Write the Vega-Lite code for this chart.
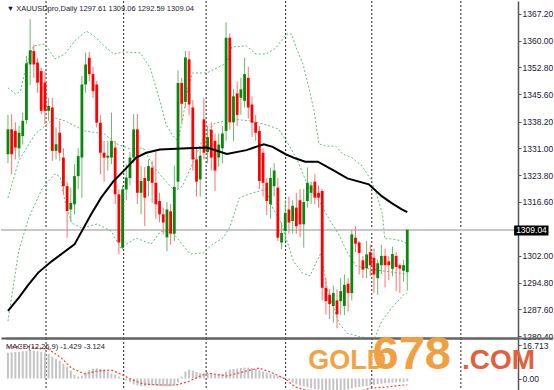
{
"$schema":"https://vega.github.io/schema/vega-lite/v6.json",
"padding":0,"spacing":0,"bounds":"flush","background":"white",
"config":{"view":{"stroke":null},"font":"Liberation Sans","axis":{"grid":false,"title":null,"labelOverlap":false,"labelBound":false,"labelFlush":false}},
"datasets":{
"candles":[
{"i":0,"o":1329.4,"h":1340.0,"l":1327.0,"c":1336.1,"m":13.0},
{"i":1,"o":1336.1,"h":1340.2,"l":1324.0,"c":1329.4,"m":13.2},
{"i":2,"o":1335.7,"h":1338.0,"l":1328.0,"c":1331.2,"m":13.4},
{"i":3,"o":1331.0,"h":1337.0,"l":1328.5,"c":1335.2,"m":13.5},
{"i":4,"o":1334.3,"h":1340.6,"l":1332.0,"c":1338.4,"m":13.8},
{"i":5,"o":1338.6,"h":1355.9,"l":1337.5,"c":1353.9,"m":14.0},
{"i":6,"o":1353.6,"h":1365.8,"l":1348.0,"c":1357.4,"m":14.2},
{"i":7,"o":1357.2,"h":1359.0,"l":1350.0,"c":1353.6,"m":14.0},
{"i":8,"o":1354.1,"h":1355.4,"l":1346.0,"c":1348.7,"m":13.8},
{"i":9,"o":1351.8,"h":1352.7,"l":1340.2,"c":1341.1,"m":13.5},
{"i":10,"o":1348.7,"h":1351.8,"l":1337.5,"c":1341.1,"m":13.2},
{"i":11,"o":1341.1,"h":1344.6,"l":1338.4,"c":1342.4,"m":12.5},
{"i":12,"o":1342.0,"h":1344.6,"l":1327.6,"c":1330.3,"m":11.0},
{"i":13,"o":1330.3,"h":1336.6,"l":1328.0,"c":1332.1,"m":10.0},
{"i":14,"o":1335.2,"h":1338.4,"l":1327.6,"c":1329.8,"m":9.0},
{"i":15,"o":1328.5,"h":1331.0,"l":1318.6,"c":1320.8,"m":7.5},
{"i":16,"o":1320.8,"h":1322.0,"l":1306.9,"c":1314.1,"m":6.0},
{"i":17,"o":1314.5,"h":1320.4,"l":1311.4,"c":1316.3,"m":4.0},
{"i":18,"o":1315.9,"h":1326.7,"l":1313.2,"c":1323.5,"m":2.0},
{"i":19,"o":1323.5,"h":1331.0,"l":1320.0,"c":1328.9,"m":1.0},
{"i":20,"o":1328.5,"h":1350.5,"l":1317.7,"c":1348.2,"m":1.5},
{"i":21,"o":1348.2,"h":1356.8,"l":1346.0,"c":1353.6,"m":3.0},
{"i":22,"o":1355.4,"h":1357.0,"l":1349.0,"c":1351.0,"m":4.5},
{"i":23,"o":1351.0,"h":1353.0,"l":1344.6,"c":1346.4,"m":5.0},
{"i":24,"o":1348.2,"h":1349.1,"l":1336.6,"c":1337.9,"m":5.2},
{"i":25,"o":1337.9,"h":1340.0,"l":1324.0,"c":1329.8,"m":5.0},
{"i":26,"o":1329.8,"h":1333.0,"l":1322.0,"c":1328.5,"m":4.5},
{"i":27,"o":1328.5,"h":1333.0,"l":1325.0,"c":1329.0,"m":3.5},
{"i":28,"o":1328.5,"h":1340.6,"l":1326.7,"c":1333.0,"m":2.5},
{"i":29,"o":1331.2,"h":1333.0,"l":1316.0,"c":1318.6,"m":2.0},
{"i":30,"o":1318.6,"h":1320.0,"l":1302.4,"c":1305.6,"m":1.0},
{"i":31,"o":1304.2,"h":1321.0,"l":1303.8,"c":1319.9,"m":0.3},
{"i":32,"o":1319.9,"h":1326.7,"l":1317.0,"c":1323.1,"m":-1.0},
{"i":33,"o":1323.0,"h":1330.0,"l":1321.0,"c":1328.5,"m":-2.0},
{"i":34,"o":1328.5,"h":1340.2,"l":1327.0,"c":1336.1,"m":-3.0},
{"i":35,"o":1336.1,"h":1340.2,"l":1316.0,"c":1319.0,"m":-3.5},
{"i":36,"o":1319.0,"h":1326.2,"l":1313.2,"c":1322.2,"m":-3.8},
{"i":37,"o":1323.0,"h":1326.0,"l":1310.0,"c":1317.7,"m":-3.8},
{"i":38,"o":1322.2,"h":1328.0,"l":1318.0,"c":1326.2,"m":-3.5},
{"i":39,"o":1325.8,"h":1327.6,"l":1316.3,"c":1321.7,"m":-3.5},
{"i":40,"o":1321.7,"h":1330.0,"l":1312.0,"c":1315.9,"m":-3.6},
{"i":41,"o":1316.8,"h":1319.0,"l":1311.0,"c":1313.2,"m":-3.8},
{"i":42,"o":1313.2,"h":1315.0,"l":1307.8,"c":1311.0,"m":-4.0},
{"i":43,"o":1307.0,"h":1316.5,"l":1303.3,"c":1314.5,"m":-4.0},
{"i":44,"o":1314.0,"h":1316.0,"l":1305.0,"c":1308.0,"m":-4.0},
{"i":45,"o":1308.0,"h":1326.4,"l":1306.0,"c":1320.6,"m":-3.5},
{"i":46,"o":1322.0,"h":1352.0,"l":1320.0,"c":1348.6,"m":-2.0},
{"i":47,"o":1348.6,"h":1350.0,"l":1338.0,"c":1343.0,"m":1.0},
{"i":48,"o":1343.5,"h":1357.2,"l":1342.0,"c":1355.5,"m":3.5},
{"i":49,"o":1355.0,"h":1357.2,"l":1340.0,"c":1342.8,"m":4.5},
{"i":50,"o":1342.0,"h":1344.0,"l":1325.0,"c":1328.0,"m":4.0},
{"i":51,"o":1328.0,"h":1331.0,"l":1318.0,"c":1322.0,"m":3.3},
{"i":52,"o":1322.6,"h":1331.0,"l":1318.0,"c":1329.0,"m":2.8},
{"i":53,"o":1338.8,"h":1344.6,"l":1328.0,"c":1329.8,"m":2.5},
{"i":54,"o":1330.0,"h":1337.0,"l":1327.0,"c":1334.0,"m":2.5},
{"i":55,"o":1336.0,"h":1338.0,"l":1325.0,"c":1328.5,"m":2.3},
{"i":56,"o":1333.0,"h":1335.0,"l":1319.5,"c":1325.0,"m":2.0},
{"i":57,"o":1328.5,"h":1335.0,"l":1326.0,"c":1332.0,"m":2.0},
{"i":58,"o":1331.0,"h":1337.0,"l":1327.0,"c":1335.0,"m":2.3},
{"i":59,"o":1335.7,"h":1365.0,"l":1333.0,"c":1360.8,"m":3.5},
{"i":60,"o":1360.8,"h":1362.0,"l":1336.0,"c":1338.0,"m":4.5},
{"i":61,"o":1338.0,"h":1347.0,"l":1333.0,"c":1345.0,"m":4.8},
{"i":62,"o":1345.8,"h":1349.0,"l":1337.0,"c":1340.0,"m":5.0},
{"i":63,"o":1344.6,"h":1350.0,"l":1340.0,"c":1346.9,"m":5.3},
{"i":64,"o":1343.8,"h":1355.4,"l":1342.0,"c":1351.0,"m":5.5},
{"i":65,"o":1350.0,"h":1353.0,"l":1339.0,"c":1342.0,"m":5.5},
{"i":66,"o":1342.8,"h":1345.0,"l":1334.0,"c":1337.9,"m":5.2},
{"i":67,"o":1338.0,"h":1340.0,"l":1333.0,"c":1335.2,"m":4.8},
{"i":68,"o":1335.7,"h":1337.0,"l":1320.0,"c":1322.2,"m":4.0},
{"i":69,"o":1329.8,"h":1331.0,"l":1318.0,"c":1321.7,"m":3.5},
{"i":70,"o":1321.7,"h":1323.0,"l":1313.0,"c":1316.8,"m":3.0},
{"i":71,"o":1315.9,"h":1325.8,"l":1312.0,"c":1323.0,"m":2.5},
{"i":72,"o":1320.8,"h":1327.0,"l":1318.0,"c":1325.0,"m":2.0},
{"i":73,"o":1320.4,"h":1323.0,"l":1306.0,"c":1306.9,"m":1.2},
{"i":74,"o":1305.6,"h":1311.0,"l":1303.8,"c":1308.2,"m":0.8},
{"i":75,"o":1308.7,"h":1317.0,"l":1306.0,"c":1313.6,"m":0.3},
{"i":76,"o":1314.5,"h":1318.0,"l":1308.0,"c":1311.0,"m":-1.0},
{"i":77,"o":1311.4,"h":1317.0,"l":1308.0,"c":1315.5,"m":-2.0},
{"i":78,"o":1315.0,"h":1319.0,"l":1308.0,"c":1310.0,"m":-3.0},
{"i":79,"o":1317.0,"h":1320.0,"l":1307.0,"c":1310.5,"m":-3.5},
{"i":80,"o":1310.5,"h":1320.0,"l":1304.2,"c":1316.5,"m":-4.0},
{"i":81,"o":1316.8,"h":1325.8,"l":1315.0,"c":1321.7,"m":-4.5},
{"i":82,"o":1319.0,"h":1322.0,"l":1316.0,"c":1321.0,"m":-5.0},
{"i":83,"o":1322.0,"h":1324.0,"l":1315.9,"c":1317.7,"m":-5.3},
{"i":84,"o":1319.0,"h":1321.0,"l":1315.0,"c":1317.7,"m":-5.5},
{"i":85,"o":1319.5,"h":1320.0,"l":1290.0,"c":1293.4,"m":-6.0},
{"i":86,"o":1293.4,"h":1296.0,"l":1286.2,"c":1289.8,"m":-6.5},
{"i":87,"o":1291.5,"h":1293.0,"l":1285.0,"c":1289.0,"m":-6.5},
{"i":88,"o":1288.5,"h":1294.0,"l":1284.0,"c":1292.0,"m":-6.5},
{"i":89,"o":1290.0,"h":1293.0,"l":1282.5,"c":1286.2,"m":-6.3},
{"i":90,"o":1289.8,"h":1296.0,"l":1286.0,"c":1292.5,"m":-6.0},
{"i":91,"o":1288.5,"h":1297.0,"l":1286.0,"c":1294.2,"m":-5.8},
{"i":92,"o":1294.5,"h":1296.0,"l":1287.0,"c":1292.0,"m":-5.5},
{"i":93,"o":1292.0,"h":1309.0,"l":1290.0,"c":1307.8,"m":-5.0},
{"i":94,"o":1306.9,"h":1310.0,"l":1303.0,"c":1305.3,"m":-4.5},
{"i":95,"o":1305.6,"h":1306.0,"l":1297.0,"c":1302.8,"m":-4.3},
{"i":96,"o":1300.8,"h":1302.0,"l":1296.0,"c":1298.3,"m":-4.0},
{"i":97,"o":1298.7,"h":1306.0,"l":1296.0,"c":1302.4,"m":-3.8},
{"i":98,"o":1303.0,"h":1305.0,"l":1296.5,"c":1299.5,"m":-3.5},
{"i":99,"o":1301.5,"h":1304.0,"l":1292.0,"c":1297.0,"m":-3.2},
{"i":100,"o":1296.0,"h":1301.0,"l":1291.5,"c":1300.0,"m":-2.8},
{"i":101,"o":1299.5,"h":1305.0,"l":1297.0,"c":1302.0,"m":-2.6},
{"i":102,"o":1302.0,"h":1304.0,"l":1293.5,"c":1299.5,"m":-2.4},
{"i":103,"o":1300.5,"h":1302.0,"l":1295.5,"c":1299.5,"m":-2.3},
{"i":104,"o":1298.5,"h":1304.5,"l":1296.5,"c":1302.5,"m":-2.1},
{"i":105,"o":1302.0,"h":1303.0,"l":1292.5,"c":1299.0,"m":-2.0},
{"i":106,"o":1299.5,"h":1300.0,"l":1292.0,"c":1298.6,"m":-1.9},
{"i":107,"o":1298.0,"h":1301.0,"l":1295.0,"c":1299.5,"m":-1.8},
{"i":108,"o":1297.61,"h":1309.06,"l":1292.59,"c":1309.04,"m":-1.429}
],
"bands":[
{"b":"u","i":0,"v":1347.3},{"b":"u","i":2.1,"v":1345.6},{"b":"u","i":3.4,"v":1346.4},{"b":"u","i":4.8,"v":1352.6},{"b":"u","i":6.9,"v":1358.6},{"b":"u","i":10.1,"v":1359.1},{"b":"u","i":12.7,"v":1355.1},{"b":"u","i":15.4,"v":1356.4},{"b":"u","i":18.0,"v":1359.9},{"b":"u","i":21.2,"v":1362.6},{"b":"u","i":23.3,"v":1361.3},{"b":"u","i":26.0,"v":1358.6},{"b":"u","i":28.6,"v":1356.4},{"b":"u","i":31.3,"v":1357.0},{"b":"u","i":35.8,"v":1356.7},{"b":"u","i":38.5,"v":1352.6},{"b":"u","i":41.1,"v":1343.8},{"b":"u","i":42.7,"v":1337.6},{"b":"u","i":44.6,"v":1334.3},{"b":"u","i":45.9,"v":1333.0},{"b":"u","i":47.2,"v":1338.4},{"b":"u","i":48.5,"v":1346.4},{"b":"u","i":49.9,"v":1351.3},{"b":"u","i":53.8,"v":1351.3},{"b":"u","i":59.2,"v":1354.0},{"b":"u","i":60.5,"v":1358.3},{"b":"u","i":64.5,"v":1358.6},{"b":"u","i":67.1,"v":1356.4},{"b":"u","i":69.8,"v":1356.4},{"b":"u","i":72.4,"v":1358.0},{"b":"u","i":75.3,"v":1361.8},{"b":"u","i":76.7,"v":1361.8},{"b":"u","i":78.0,"v":1358.0},{"b":"u","i":79.8,"v":1353.7},{"b":"u","i":81.4,"v":1347.3},{"b":"u","i":82.8,"v":1341.1},{"b":"u","i":84.1,"v":1332.2},{"b":"u","i":85.9,"v":1331.6},{"b":"u","i":88.6,"v":1331.6},{"b":"u","i":90.5,"v":1329.5},{"b":"u","i":93.1,"v":1328.4},{"b":"u","i":95.8,"v":1326.2},{"b":"u","i":98.4,"v":1322.2},{"b":"u","i":100.0,"v":1317.6},{"b":"u","i":101.3,"v":1313.3},{"b":"u","i":101.9,"v":1306.6},{"b":"u","i":103.7,"v":1306.6},{"b":"u","i":106.6,"v":1306.0},{"b":"u","i":108,"v":1305.2},
{"b":"m","i":0,"v":1317.6},{"b":"m","i":2.9,"v":1327.6},{"b":"m","i":7.4,"v":1334.9},{"b":"m","i":12.7,"v":1339.2},{"b":"m","i":15.4,"v":1338.4},{"b":"m","i":20.7,"v":1335.7},{"b":"m","i":26.0,"v":1334.9},{"b":"m","i":29.4,"v":1332.2},{"b":"m","i":33.2,"v":1330.8},{"b":"m","i":36.6,"v":1331.1},{"b":"m","i":39.3,"v":1326.2},{"b":"m","i":41.9,"v":1323.0},{"b":"m","i":45.1,"v":1319.5},{"b":"m","i":47.2,"v":1320.8},{"b":"m","i":49.9,"v":1326.8},{"b":"m","i":52.5,"v":1333.0},{"b":"m","i":55.7,"v":1337.6},{"b":"m","i":60.5,"v":1338.9},{"b":"m","i":65.3,"v":1338.4},{"b":"m","i":69.0,"v":1337.6},{"b":"m","i":73.2,"v":1336.2},{"b":"m","i":75.3,"v":1333.0},{"b":"m","i":78.0,"v":1328.4},{"b":"m","i":81.4,"v":1320.3},{"b":"m","i":84.1,"v":1316.8},{"b":"m","i":86.7,"v":1312.2},{"b":"m","i":89.4,"v":1307.9},{"b":"m","i":92.0,"v":1302.5},{"b":"m","i":94.2,"v":1299.3},{"b":"m","i":97.6,"v":1298.5},{"b":"m","i":101.6,"v":1297.9},{"b":"m","i":108,"v":1297.1},
{"b":"l","i":0,"v":1284.4},{"b":"l","i":2.9,"v":1303.3},{"b":"l","i":5.6,"v":1312.2},{"b":"l","i":9.3,"v":1320.3},{"b":"l","i":12.7,"v":1324.1},{"b":"l","i":14.1,"v":1323.3},{"b":"l","i":15.4,"v":1316.8},{"b":"l","i":17.2,"v":1310.9},{"b":"l","i":19.9,"v":1309.5},{"b":"l","i":24.1,"v":1310.6},{"b":"l","i":27.9,"v":1308.7},{"b":"l","i":30.5,"v":1304.1},{"b":"l","i":32.1,"v":1305.2},{"b":"l","i":34.7,"v":1306.8},{"b":"l","i":38.7,"v":1305.2},{"b":"l","i":41.4,"v":1308.7},{"b":"l","i":44.6,"v":1308.2},{"b":"l","i":49.3,"v":1302.5},{"b":"l","i":52.8,"v":1302.8},{"b":"l","i":55.4,"v":1305.2},{"b":"l","i":58.1,"v":1306.8},{"b":"l","i":59.9,"v":1309.5},{"b":"l","i":62.6,"v":1317.6},{"b":"l","i":65.3,"v":1318.7},{"b":"l","i":69.8,"v":1320.0},{"b":"l","i":71.6,"v":1314.9},{"b":"l","i":73.7,"v":1311.4},{"b":"l","i":75.3,"v":1306.6},{"b":"l","i":77.2,"v":1300.6},{"b":"l","i":79.6,"v":1297.4},{"b":"l","i":81.7,"v":1296.6},{"b":"l","i":83.3,"v":1300.1},{"b":"l","i":84.6,"v":1302.8},{"b":"l","i":86.5,"v":1292.5},{"b":"l","i":89.7,"v":1283.6},{"b":"l","i":91.8,"v":1281.2},{"b":"l","i":95.5,"v":1280.1},{"b":"l","i":99.2,"v":1279.9},{"b":"l","i":101.1,"v":1284.4},{"b":"l","i":103.7,"v":1287.9},{"b":"l","i":107.2,"v":1291.7},{"b":"l","i":108,"v":1292.0}
],
"ma":[
{"i":0,"v":1287.2},{"i":2.9,"v":1290.7},{"i":5.6,"v":1294.3},{"i":8.2,"v":1297.5},{"i":11.9,"v":1300.6},{"i":18.0,"v":1305.1},{"i":22.5,"v":1313.2},{"i":25.2,"v":1317.7},{"i":28.6,"v":1322.2},{"i":31.3,"v":1324.9},{"i":34.7,"v":1328.5},{"i":37.4,"v":1329.8},{"i":41.1,"v":1330.7},{"i":48.5,"v":1331.0},{"i":53.8,"v":1331.2},{"i":59.2,"v":1329.5},{"i":64.5,"v":1330.5},{"i":69.2,"v":1332.1},{"i":71.6,"v":1331.4},{"i":75.1,"v":1329.4},{"i":77.7,"v":1328.3},{"i":80.4,"v":1327.4},{"i":83.8,"v":1327.4},{"i":88.3,"v":1324.9},{"i":91.8,"v":1322.9},{"i":97.6,"v":1321.3},{"i":101.1,"v":1318.1},{"i":103.7,"v":1316.3},{"i":106.4,"v":1314.6},{"i":108,"v":1313.8}
],
"sig":[
{"i":0,"v":16.0},{"i":4.8,"v":16.3},{"i":10.9,"v":14.9},{"i":14.1,"v":10.9},{"i":17.2,"v":5.3},{"i":20.7,"v":2.3},{"i":24.1,"v":3.8},{"i":27.9,"v":4.3},{"i":30.5,"v":2.3},{"i":33.2,"v":-0.3},{"i":36.6,"v":-2.8},{"i":41.9,"v":-3.3},{"i":45.4,"v":-3.3},{"i":48.5,"v":-1.8},{"i":53.8,"v":2.8},{"i":59.2,"v":1.3},{"i":64.5,"v":3.8},{"i":67.9,"v":5.3},{"i":71.6,"v":2.8},{"i":75.1,"v":-0.3},{"i":77.7,"v":-4.3},{"i":80.4,"v":-5.8},{"i":84.4,"v":-6.3},{"i":89.7,"v":-6.8},{"i":95.0,"v":-6.8},{"i":97.6,"v":-5.0},{"i":102.9,"v":-4.2},{"i":108,"v":-3.124}
],
"grid":[{"i":10.3},{"i":31.3},{"i":53.6},{"i":75.1},{"i":98.4},{"i":122.5}],
"sep":[{"x1":-0.53,"x2":147.5,"y":20.2}],
"box":[{"x1":136.9,"x2":146.2,"y1":1307.5,"y2":1310.2,"xt":141.6,"yt":1308.85,"t":"1309.04"}],
"marks":[
{"i":-0.3,"v":1368.5,"t":"▼ XAUUSDpro,Daily  1297.61 1309.06 1292.59 1309.04"}
],
"wm":[
{"k":"g","i":81.2,"v":5.0,"t":"GOLD"},
{"k":"n","i":98.6,"v":5.0,"t":"678"},
{"k":"c","i":122.8,"v":5.0,"t":".COM"},
{"k":"lab","i":-0.5,"v":15.95,"t":"MACD(12,26,9) -1.429 -3.124"}
]
},
"vconcat":[
{
"width":517,"height":337,
"layer":[
{"data":{"name":"grid"},"mark":{"type":"rule","color":"#222","strokeDash":[2,2],"strokeWidth":1},
 "encoding":{"x":{"field":"i","type":"quantitative","scale":{"domain":[-0.53,136.6],"nice":false,"zero":false},"axis":{"labels":false,"ticks":false,"domain":true,"domainColor":"#555","domainWidth":2}}}},
{"data":{"name":"grid"},"mark":{"type":"rule","color":"#c8c8c8","strokeWidth":1.5},
 "encoding":{"y":{"datum":1309.04,"type":"quantitative","scale":{"domain":[1279.87,1370.7],"nice":false,"zero":false},
   "axis":{"orient":"right","values":[1367.2,1360,1352.8,1345.6,1338.2,1331,1323.8,1316.6,1302,1294.8,1287.6,1280.4],"tickCount":40,"labelExpr":"format(datum.value,'.2f')","labelOverlap":false,"labelFontSize":8.5,"labelColor":"#1a1a2e","tickSize":3,"tickColor":"#555","domainColor":"#555","domainWidth":1.5,"labelPadding":1}}}},
{"data":{"name":"bands"},"mark":{"type":"line","color":"#5dbb7a","strokeDash":[2,2],"strokeWidth":1},
 "encoding":{"x":{"field":"i","type":"quantitative"},"y":{"field":"v","type":"quantitative"},"detail":{"field":"b"}}},
{"data":{"name":"candles"},"mark":{"type":"rule","strokeWidth":1},
 "encoding":{"x":{"field":"i","type":"quantitative"},"y":{"field":"l","type":"quantitative"},"y2":{"field":"h"},
  "color":{"condition":{"test":"datum.c >= datum.o","value":"#6cb86c"},"value":"#ff7070"}}},
{"data":{"name":"candles"},"mark":{"type":"bar","size":2.8},
 "encoding":{"x":{"field":"i","type":"quantitative"},"y":{"field":"o","type":"quantitative"},"y2":{"field":"c"},
  "color":{"condition":{"test":"datum.c >= datum.o","value":"#0a870a"},"value":"#ff0000"}}},
{"data":{"name":"ma"},"mark":{"type":"line","color":"#000","strokeWidth":2},
 "encoding":{"x":{"field":"i","type":"quantitative"},"y":{"field":"v","type":"quantitative"}}},
{"data":{"name":"marks"},"mark":{"type":"text","align":"left","baseline":"middle","fontSize":7.5,"color":"#1a1a2e"},
 "encoding":{"x":{"field":"i","type":"quantitative"},"y":{"field":"v","type":"quantitative"},"text":{"field":"t"}}},
{"data":{"name":"box"},"mark":{"type":"rect","color":"#000","clip":false},
 "encoding":{"x":{"field":"x1","type":"quantitative"},"x2":{"field":"x2"},"y":{"field":"y1","type":"quantitative"},"y2":{"field":"y2"}}},
{"data":{"name":"box"},"mark":{"type":"text","color":"#fff","fontSize":8.5,"align":"center","baseline":"middle","clip":false},
 "encoding":{"x":{"field":"xt","type":"quantitative"},"y":{"field":"yt","type":"quantitative"},"text":{"field":"t"}}}
]
},
{
"width":517,"height":60,
"layer":[
{"data":{"name":"grid"},"mark":{"type":"rule","color":"#222","strokeDash":[2,2],"strokeWidth":1},
 "encoding":{"x":{"field":"i","type":"quantitative","scale":{"domain":[-0.53,136.6],"nice":false,"zero":false},"axis":null}}},
{"data":{"name":"candles"},"mark":{"type":"bar","size":2,"color":"#c4c4c4"},
 "encoding":{"x":{"field":"i","type":"quantitative"},"y":{"field":"m","type":"quantitative","scale":{"domain":[-9.87,20.51],"nice":false,"zero":false},
   "axis":{"orient":"right","values":[16.713,0],"tickCount":10,"labelExpr":"datum.value == 0 ? '0.00' : '16.713'","labelOverlap":false,"labelFontSize":8.5,"labelColor":"#1a1a2e","tickSize":3,"tickColor":"#555","domainColor":"#555","domainWidth":1.5,"labelPadding":1}},"y2":{"datum":0}}},
{"data":{"name":"sig"},"mark":{"type":"line","color":"#ff3b3b","strokeDash":[2,2],"strokeWidth":1.2},
 "encoding":{"x":{"field":"i","type":"quantitative"},"y":{"field":"v","type":"quantitative"}}},
{"data":{"name":"sep"},"mark":{"type":"rule","color":"#666","strokeWidth":2,"clip":false},
 "encoding":{"x":{"field":"x1","type":"quantitative"},"x2":{"field":"x2"},"y":{"field":"y","type":"quantitative"}}},
{"data":{"name":"wm"},"transform":[{"filter":"datum.k == 'lab'"}],"mark":{"type":"text","align":"left","baseline":"middle","fontSize":7.5,"color":"#1a1a2e"},
 "encoding":{"x":{"field":"i","type":"quantitative"},"y":{"field":"v","type":"quantitative"},"text":{"field":"t"}}},
{"data":{"name":"wm"},"transform":[{"filter":"datum.k == 'g'"}],"mark":{"type":"text","align":"left","baseline":"alphabetic","fontWeight":"bold","fontSize":27,"color":"#f2a444","clip":false},
 "encoding":{"x":{"field":"i","type":"quantitative"},"y":{"field":"v","type":"quantitative"},"text":{"field":"t"}}},
{"data":{"name":"wm"},"transform":[{"filter":"datum.k == 'n'"}],"mark":{"type":"text","align":"left","baseline":"alphabetic","fontWeight":"bold","fontSize":47,"color":"#f0a040","clip":false},
 "encoding":{"x":{"field":"i","type":"quantitative"},"y":{"field":"v","type":"quantitative"},"text":{"field":"t"}}},
{"data":{"name":"wm"},"transform":[{"filter":"datum.k == 'c'"}],"mark":{"type":"text","align":"left","baseline":"alphabetic","fontWeight":"bold","fontSize":28,"color":"#e2603c","clip":false},
 "encoding":{"x":{"field":"i","type":"quantitative"},"y":{"field":"v","type":"quantitative"},"text":{"field":"t"}}}
]
}
]
}
